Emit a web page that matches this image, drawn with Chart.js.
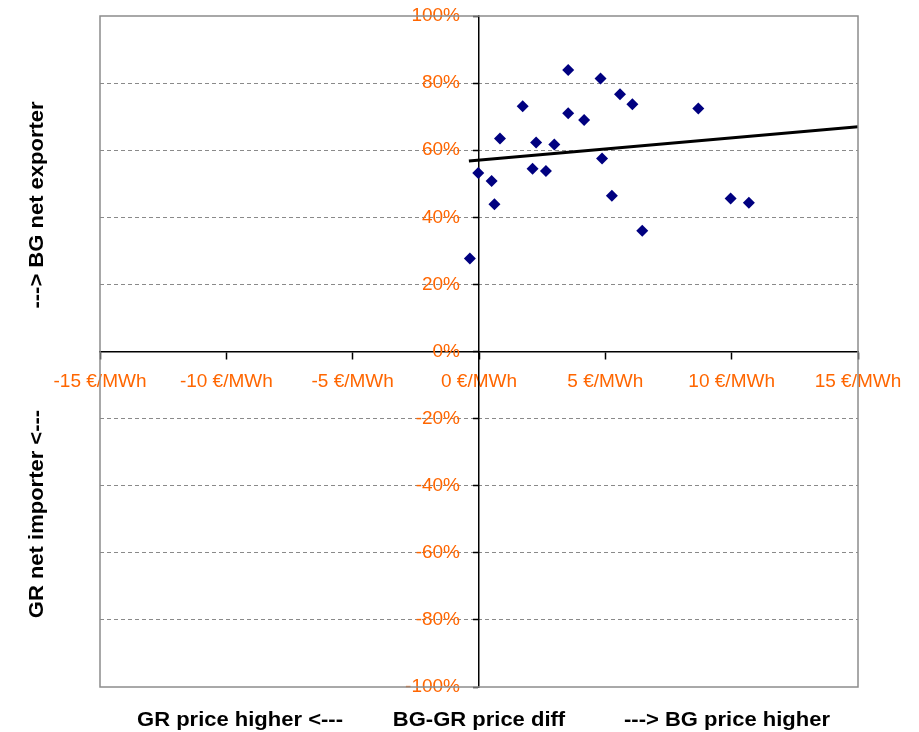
<!DOCTYPE html>
<html>
<head>
<meta charset="utf-8">
<script src="https://cdn.jsdelivr.net/npm/chart.js@4.4.0/dist/chart.umd.min.js"></script>
<style>
    html, body { margin: 0; padding: 0; background: #fff; }
</style>
</head>
<body>
<canvas id="scatterChart" width="919" height="732"></canvas>
<script>
    // BG-GR price difference (€/MWh) vs share of hours BG is net exporter (%)
    const priceDiff = [-0.36, -0.03, 0.50, 0.61, 0.83, 1.73, 2.12, 2.26, 2.65, 2.98, 3.53,
                       3.53, 4.16, 4.81, 4.87, 5.26, 5.58, 6.07, 6.46, 8.68, 9.96, 10.68];
    const exportShare = [27.7, 53.2, 50.8, 43.9, 63.5, 73.1, 54.5, 62.3, 53.8, 61.7, 83.9,
                         71.0, 69.0, 81.4, 57.5, 46.4, 76.7, 73.7, 36.0, 72.4, 45.6, 44.3];

    // linear trend line (Excel), start / end
    const trendX = [-0.4, 15];
    const trendY = [56.8, 67.0];

    const xTitles = ['GR price higher <---', 'BG-GR price diff', '---> BG price higher'];
    const yTitles = ['GR net importer <---', '---> BG net exporter'];

    const FONT = 'Arial, "Liberation Sans", sans-serif';
    const ORANGE = '#FF6600';

    // gray frame round the plot area + the axis titles
    const frameAndTitles = {
        id: 'frameAndTitles',
        afterDraw(chart) {
            const { ctx, chartArea: a } = chart;
            ctx.save();
            ctx.strokeStyle = '#8c8c8c';
            ctx.lineWidth = 1.5;
            ctx.strokeRect(a.left, a.top, a.right - a.left, a.bottom - a.top);

            ctx.font = 'bold 20px ' + FONT;
            ctx.fillStyle = '#000';
            ctx.textAlign = 'center';
            ctx.textBaseline = 'middle';
            const xPos = [240, 479, 727];
            xTitles.forEach((t, i) => {
                ctx.save();
                ctx.translate(xPos[i], 720);
                ctx.scale(1.1, 1);
                ctx.fillText(t, 0, 0);
                ctx.restore();
            });
            const yPos = [514, 205];
            yTitles.forEach((t, i) => {
                ctx.save();
                ctx.translate(37, yPos[i]);
                ctx.rotate(-Math.PI / 2);
                ctx.scale(1.1, 1);
                ctx.fillText(t, 0, 0);
                ctx.restore();
            });
            ctx.restore();
        }
    };

    // axes sit in the middle: keep their label padding out of the layout
    const noPad = scale => {
        scale.paddingTop = 0;
        scale.paddingBottom = 0;
        scale.paddingLeft = 0;
        scale.paddingRight = 0;
    };

    const ctx = document.getElementById('scatterChart').getContext('2d');
    new Chart(ctx, {
        type: 'scatter',
        data: {
            datasets: [{
                label: 'Trend',
                data: trendX.map((x, i) => ({ x: x, y: trendY[i] })),
                showLine: true,
                borderColor: '#000',
                borderWidth: 3,
                pointRadius: 0
            }, {
                label: 'Hours',
                data: priceDiff.map((x, i) => ({ x: x, y: exportShare[i] })),
                pointStyle: 'rectRot',
                pointRadius: 6,
                pointHoverRadius: 6,
                backgroundColor: '#000080',
                borderColor: '#000080',
                borderWidth: 0
            }]
        },
        options: {
            responsive: false,
            animation: false,
            layout: {
                padding: { left: 100, right: 61, top: 16, bottom: 45 }
            },
            plugins: {
                legend: { display: false },
                tooltip: { enabled: false }
            },
            scales: {
                x: {
                    type: 'linear',
                    position: 'center',
                    min: -15,
                    max: 15,
                    afterFit: noPad,
                    ticks: {
                        stepSize: 5,
                        autoSkip: false,
                        maxRotation: 0,
                        padding: 12,
                        color: ORANGE,
                        font: { family: FONT, size: 19 },
                        callback: v => v + ' €/MWh'
                    },
                    grid: {
                        drawOnChartArea: false,
                        tickLength: 7,
                        tickColor: '#000',
                        tickWidth: 1.5
                    },
                    border: { color: '#000', width: 1.5 }
                },
                y: {
                    type: 'linear',
                    position: 'center',
                    min: -100,
                    max: 100,
                    afterFit: noPad,
                    ticks: {
                        stepSize: 20,
                        padding: 14,
                        color: ORANGE,
                        font: { family: FONT, size: 19 },
                        callback: v => v + '%'
                    },
                    grid: {
                        color: c => (c.tick && (c.tick.value === 0 || Math.abs(c.tick.value) === 100)) ? 'rgba(0,0,0,0)' : '#8a8a8a',
                        lineWidth: 1,
                        tickLength: 5,
                        tickColor: '#000',
                        tickWidth: 1.5
                    },
                    border: { color: '#000', width: 1.5, dash: [4, 3] }
                }
            }
        },
        plugins: [frameAndTitles]
    });
</script>
</body>
</html>
